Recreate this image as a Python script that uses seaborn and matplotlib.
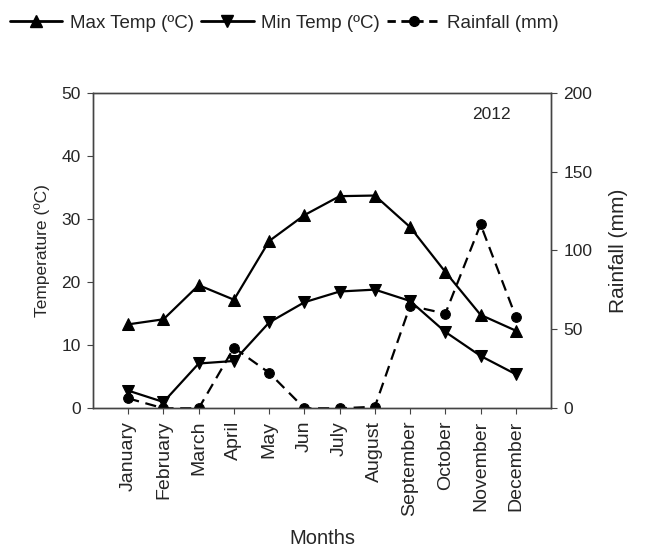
import seaborn as sns
import matplotlib.pyplot as plt
import pandas as pd
from matplotlib.lines import Line2D

months = ["January", "February", "March", "April", "May", "Jun", "July",
          "August", "September", "October", "November", "December"]
max_temp = [13.3, 14.1, 19.5, 17.2, 26.5, 30.6, 33.6, 33.7, 28.7, 21.6, 14.8, 12.3]
min_temp = [2.8, 1.0, 7.1, 7.5, 13.6, 16.8, 18.5, 18.8, 17.0, 12.1, 8.3, 5.4]
rainfall = [6.3, 0, 0, 38.4, 22.5, 0, 0, 1.0, 65, 60, 116.5, 58]

df = pd.DataFrame({"pos": range(1, 13), "Month": months, "max": max_temp,
                   "min": min_temp, "rain": rainfall})

sns.set_style("ticks")
plt.rcParams["font.family"] = ["Liberation Sans", "DejaVu Sans"]

fig = plt.figure(figsize=(6.56, 5.5), dpi=100)
ax = fig.add_axes([0.1418, 0.2576, 0.6982, 0.574])
ax2 = ax.twinx()

sns.lineplot(data=df, x="pos", y="max", ax=ax, color="black", lw=1.6,
             marker="^", markersize=8, markeredgecolor="black")
sns.lineplot(data=df, x="pos", y="min", ax=ax, color="black", lw=1.6,
             marker="v", markersize=8, markeredgecolor="black")
sns.lineplot(data=df, x="pos", y="rain", ax=ax2, color="black", lw=1.6,
             linestyle=(0, (5, 3)), marker="o", markersize=7, markeredgecolor="black")

ax.set_xlim(0, 13)
ax.set_ylim(0, 50)
ax2.set_ylim(0, 200)
ax.set_xticks(df["pos"])
ax.set_xticklabels(months, rotation=90, fontsize=14)
ax.set_yticks(range(0, 51, 10))
ax2.set_yticks(range(0, 201, 50))
ax.tick_params(axis="y", labelsize=12.5, direction="out", length=4, color="#444444", pad=5)
ax.tick_params(axis="x", direction="out", length=4, color="#444444", pad=5)
ax2.tick_params(axis="y", labelsize=12.5, direction="out", length=4, color="#444444", pad=5)
ax.set_xlabel("Months", fontsize=14.5, labelpad=9)
ax.set_ylabel("Temperature (ºC)", fontsize=12.5, labelpad=8)
ax2.set_ylabel("Rainfall (mm)", fontsize=15, labelpad=12)
for a in (ax, ax2):
    for s in a.spines.values():
        s.set_color("#444444")
        s.set_linewidth(1.0)

ax.text(0.869, 0.93, "2012", transform=ax.transAxes, ha="center", va="center",
        fontsize=12.5)

handles = [
    Line2D([], [], color="black", lw=2, marker="^", markersize=8),
    Line2D([], [], color="black", lw=2, marker="v", markersize=8),
    Line2D([], [], color="black", lw=2, linestyle=(0, (3, 2)), marker="o", markersize=7),
]
fig.legend(handles, ["Max Temp (ºC)", "Min Temp (ºC)", "Rainfall (mm)"],
           loc="center left", bbox_to_anchor=(-0.011, 0.958), ncol=3, frameon=False,
           fontsize=13.5, handlelength=2.8, handletextpad=0.4, columnspacing=0.4)

fig.savefig("out.png", dpi=100)
